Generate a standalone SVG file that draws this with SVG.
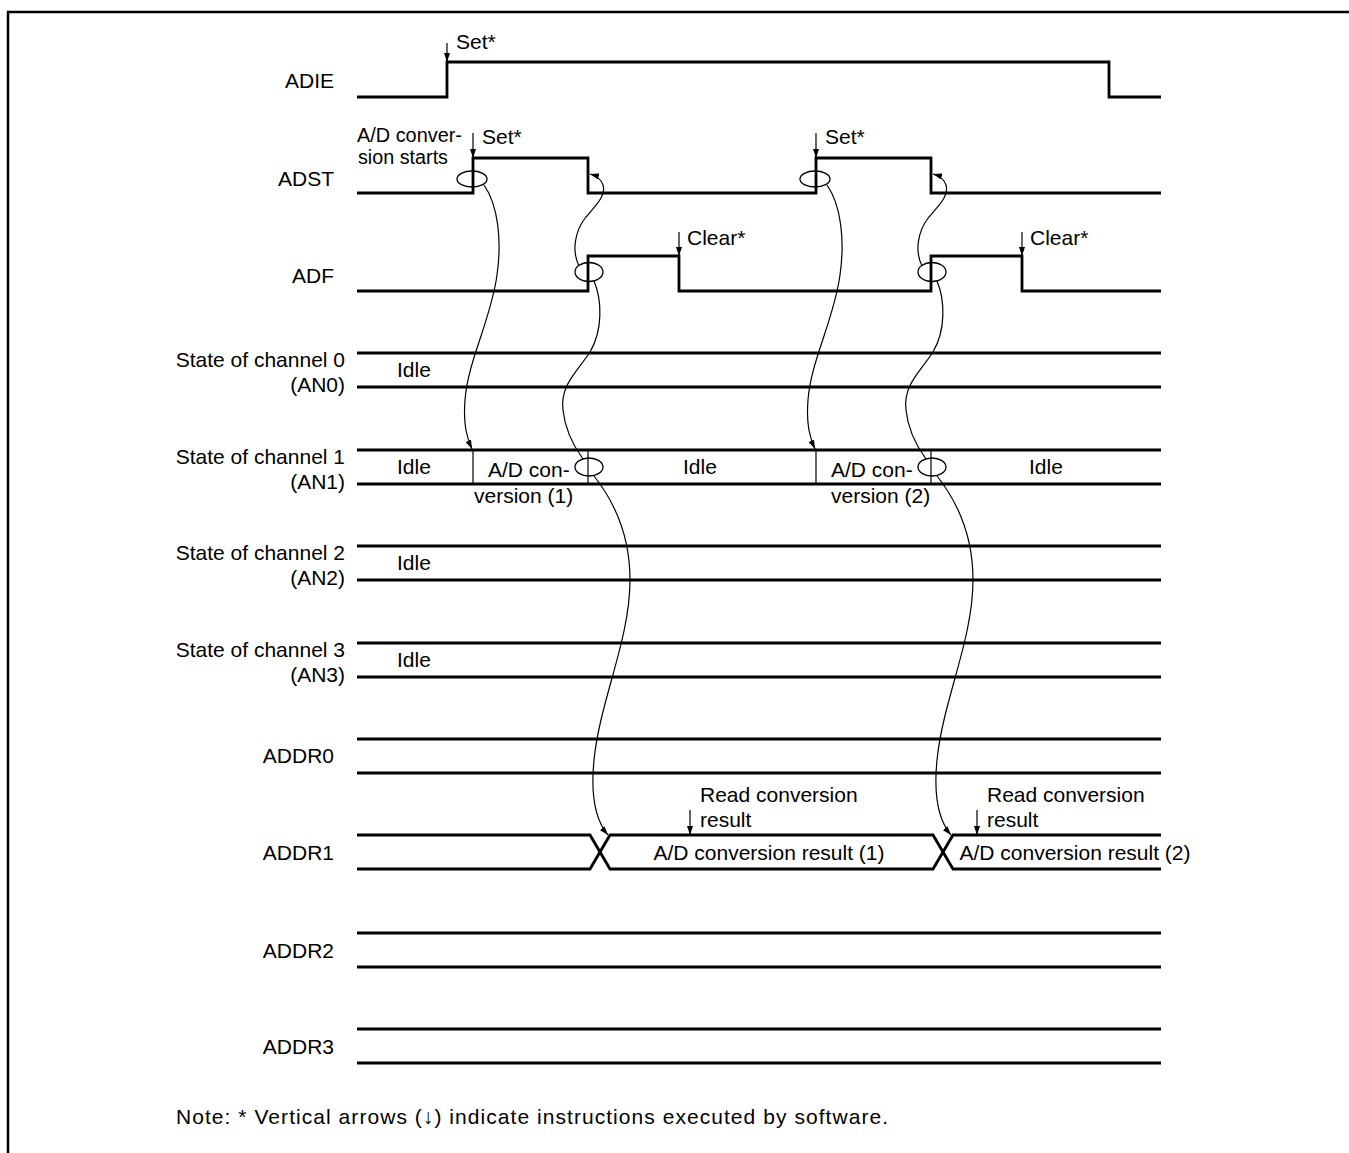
<svg xmlns="http://www.w3.org/2000/svg" width="1349" height="1153" viewBox="0 0 1349 1153">
<style>
  text { font-family: "Liberation Sans", Arial, sans-serif; font-size: 21px; fill: #000; }
  .lbl { text-anchor: end; }
  .mid { text-anchor: middle; }
  .sm { font-size: 19.5px; }
  .sig { fill: none; stroke: #000; stroke-width: 2.8; stroke-linejoin: miter; stroke-linecap: butt; }
  .thin { fill: none; stroke: #000; stroke-width: 1.2; }
  .ell { fill: none; stroke: #000; stroke-width: 1.3; }
  .frame { fill: none; stroke: #000; stroke-width: 2.5; }
</style>
<defs>
  <marker id="ah" markerUnits="userSpaceOnUse" markerWidth="10" markerHeight="6" refX="9" refY="3" orient="auto">
    <path d="M0,0 L9,3 L0,6 z" fill="#000"/>
  </marker>
</defs>
<rect width="1349" height="1153" fill="#fff"/>
<path class="frame" d="M8,1153 V12 H1349"/>

<g id="ADIE">
  <text class="lbl" x="334" y="88">ADIE</text>
  <path class="sig" d="M357,97 H447 V62 H1109 V97 H1161"/>
  <line class="thin" x1="447" y1="43" x2="447" y2="62" marker-end="url(#ah)"/>
  <text x="456" y="49">Set*</text>
</g>

<g id="ADST">
  <text class="lbl" x="334" y="186">ADST</text>
  <path class="sig" d="M357,193 H473 V158 H588 V193 H816 V158 H931 V193 H1161"/>
  <text class="sm" x="357" y="142" textLength="105" lengthAdjust="spacingAndGlyphs">A/D conver-</text>
  <text class="sm" x="358" y="164" textLength="90" lengthAdjust="spacingAndGlyphs">sion starts</text>
  <line class="thin" x1="473" y1="133" x2="473" y2="158" marker-end="url(#ah)"/>
  <text x="482" y="144">Set*</text>
  <line class="thin" x1="816" y1="133" x2="816" y2="158" marker-end="url(#ah)"/>
  <text x="825" y="144">Set*</text>
  <ellipse class="ell" cx="472" cy="179" rx="15" ry="8"/>
  <ellipse class="ell" cx="815" cy="179" rx="15" ry="8"/>
</g>

<g id="ADF">
  <text class="lbl" x="334" y="283">ADF</text>
  <path class="sig" d="M357,291 H588 V256 H679 V291 H931 V256 H1022 V291 H1161"/>
  <line class="thin" x1="679" y1="232" x2="679" y2="256" marker-end="url(#ah)"/>
  <text x="687" y="245">Clear*</text>
  <line class="thin" x1="1022" y1="232" x2="1022" y2="256" marker-end="url(#ah)"/>
  <text x="1030" y="245">Clear*</text>
  <ellipse class="ell" cx="589" cy="272" rx="14" ry="9.5"/>
  <ellipse class="ell" cx="932" cy="272" rx="14" ry="9.5"/>
</g>

<g id="AN0">
  <text class="lbl" x="345" y="367">State of channel 0</text>
  <text class="lbl" x="345" y="392">(AN0)</text>
  <line class="sig" x1="357" y1="353" x2="1161" y2="353"/>
  <line class="sig" x1="357" y1="387" x2="1161" y2="387"/>
  <text x="397" y="377">Idle</text>
</g>

<g id="AN1">
  <text class="lbl" x="345" y="464">State of channel 1</text>
  <text class="lbl" x="345" y="489">(AN1)</text>
  <line class="sig" x1="357" y1="450" x2="1161" y2="450"/>
  <line class="sig" x1="357" y1="484" x2="1161" y2="484"/>
  <line class="thin" x1="473" y1="450" x2="473" y2="484"/>
  <line class="thin" x1="588" y1="450" x2="588" y2="484"/>
  <line class="thin" x1="816" y1="450" x2="816" y2="484"/>
  <line class="thin" x1="931" y1="450" x2="931" y2="484"/>
  <text x="397" y="474">Idle</text>
  <text x="488" y="477">A/D con-</text>
  <text x="474" y="503">version (1)</text>
  <text x="683" y="474">Idle</text>
  <text x="831" y="477">A/D con-</text>
  <text x="831" y="503">version (2)</text>
  <text x="1029" y="474">Idle</text>
  <ellipse class="ell" cx="589" cy="467" rx="14" ry="9"/>
  <ellipse class="ell" cx="932" cy="467" rx="14" ry="9"/>
</g>

<g id="AN2">
  <text class="lbl" x="345" y="560">State of channel 2</text>
  <text class="lbl" x="345" y="585">(AN2)</text>
  <line class="sig" x1="357" y1="546" x2="1161" y2="546"/>
  <line class="sig" x1="357" y1="580" x2="1161" y2="580"/>
  <text x="397" y="570">Idle</text>
</g>

<g id="AN3">
  <text class="lbl" x="345" y="657">State of channel 3</text>
  <text class="lbl" x="345" y="682">(AN3)</text>
  <line class="sig" x1="357" y1="643" x2="1161" y2="643"/>
  <line class="sig" x1="357" y1="677" x2="1161" y2="677"/>
  <text x="397" y="667">Idle</text>
</g>

<g id="ADDR0">
  <text class="lbl" x="334" y="763">ADDR0</text>
  <line class="sig" x1="357" y1="739" x2="1161" y2="739"/>
  <line class="sig" x1="357" y1="773" x2="1161" y2="773"/>
</g>

<g id="ADDR1">
  <text class="lbl" x="334" y="860">ADDR1</text>
  <path class="sig" d="M357,835 H590 L610,869 H933 L953,835 H1161"/>
  <path class="sig" d="M357,869 H590 L610,835 H933 L953,869 H1161"/>
  <text class="mid" x="769" y="860">A/D conversion result (1)</text>
  <text class="mid" x="1075" y="860">A/D conversion result (2)</text>
  <text x="700" y="802">Read conversion</text>
  <text x="700" y="827">result</text>
  <line class="thin" x1="690" y1="810" x2="690" y2="835" marker-end="url(#ah)"/>
  <text x="987" y="802">Read conversion</text>
  <text x="987" y="827">result</text>
  <line class="thin" x1="977" y1="810" x2="977" y2="835" marker-end="url(#ah)"/>
</g>

<g id="ADDR2">
  <text class="lbl" x="334" y="958">ADDR2</text>
  <line class="sig" x1="357" y1="933" x2="1161" y2="933"/>
  <line class="sig" x1="357" y1="967" x2="1161" y2="967"/>
</g>

<g id="ADDR3">
  <text class="lbl" x="334" y="1054">ADDR3</text>
  <line class="sig" x1="357" y1="1029" x2="1161" y2="1029"/>
  <line class="sig" x1="357" y1="1063" x2="1161" y2="1063"/>
</g>

<g id="connectors">
  <g id="cycle1">
    <path class="thin" d="M484,185 C498,205 502,240 497,275 C491,320 468,360 465,400 C463,425 467,438 472,449" marker-end="url(#ah)"/>
    <path class="thin" d="M579,266 C572,252 574,232 586,217 C598,203 606,195 603,185 C601,179 597,176 590,174" marker-end="url(#ah)"/>
    <path class="thin" d="M594,281 C602,300 603,330 590,352 C577,372 560,385 563,410 C565,430 575,448 583,459"/>
    <path class="thin" d="M594,476 C613,500 630,535 630,580 C630,640 600,700 594,760 C590,800 597,822 608,835" marker-end="url(#ah)"/>
  </g>
  <g id="cycle2" transform="translate(343,0)">
    <path class="thin" d="M484,185 C498,205 502,240 497,275 C491,320 468,360 465,400 C463,425 467,438 472,449" marker-end="url(#ah)"/>
    <path class="thin" d="M579,266 C572,252 574,232 586,217 C598,203 606,195 603,185 C601,179 597,176 590,174" marker-end="url(#ah)"/>
    <path class="thin" d="M594,281 C602,300 603,330 590,352 C577,372 560,385 563,410 C565,430 575,448 583,459"/>
    <path class="thin" d="M594,476 C613,500 630,535 630,580 C630,640 600,700 594,760 C590,800 597,822 608,835" marker-end="url(#ah)"/>
  </g>
</g>

<text x="176" y="1124" textLength="712" lengthAdjust="spacing">Note:  * Vertical arrows (↓) indicate instructions executed by software.</text>
</svg>
